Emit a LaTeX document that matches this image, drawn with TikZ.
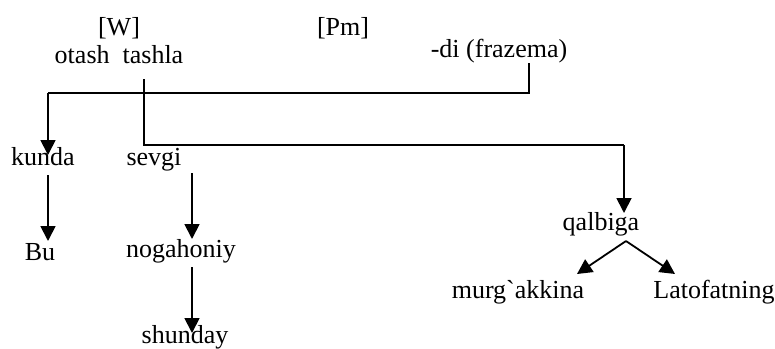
\documentclass[tikz,border=0pt]{standalone}
\usepackage{fontspec}
\setmainfont{Liberation Serif}[Ligatures=TeXOff]
\usetikzlibrary{arrows.meta}
\begin{document}
\begin{tikzpicture}[x=1pt,y=-1pt,
  word/.style={inner sep=0pt,anchor=base,font=\fontsize{26}{30}\selectfont},
  ln/.style={line width=1.8pt},
  arr/.style={line width=1.8pt,-{Triangle[length=15pt,width=15pt]}}]
\useasboundingbox (0,0) rectangle (775,348);
% words
\node[word] (W) at (119,35) {[W]};
\node[word] (Pm) at (343,35) {[Pm]};
\node[word] (ot) at (119,63) {otash\ \ tashla};
\node[word] (di) at (499,57) {-di (frazema)};
\node[word] (kunda) at (43,165) {kunda};
\node[word] (sevgi) at (154,165) {sevgi};
\node[word] (bu) at (40,260) {Bu};
\node[word] (nog) at (181,257) {nogahoniy};
\node[word] (shu) at (185,343) {shunday};
\node[word] (qal) at (601,230) {qalbiga};
\node[word] (mur) at (518,298) {murg`akkina};
\node[word] (lat) at (714,298) {Latofatning};
% coordinates
\coordinate (diB) at (529,63);
\coordinate (c1) at (529,93);
\coordinate (c2) at (48,93);
\coordinate (kT) at (48,155);
\coordinate (tB) at (144,79);
\coordinate (c3) at (144,145);
\coordinate (c4) at (624,145);
\coordinate (qT) at (624,213);
\coordinate (kB) at (48,175);
\coordinate (buT) at (48,241);
\coordinate (sB) at (192,173);
\coordinate (nT) at (192,239);
\coordinate (nB) at (192,267);
\coordinate (shT) at (192,333);
\coordinate (qB) at (626,241);
\coordinate (mT) at (577,274);
\coordinate (lT) at (675,274);
% connectors
\draw[ln] (diB) -- (c1) -- (c2);
\draw[arr] (c2) -- (kT);
\draw[ln] (tB) -- (c3) -- (c4);
\draw[arr] (c4) -- (qT);
\draw[arr] (kB) -- (buT);
\draw[arr] (sB) -- (nT);
\draw[arr] (nB) -- (shT);
\draw[arr] (qB) -- (mT);
\draw[arr] (qB) -- (lT);
\end{tikzpicture}
\end{document}
